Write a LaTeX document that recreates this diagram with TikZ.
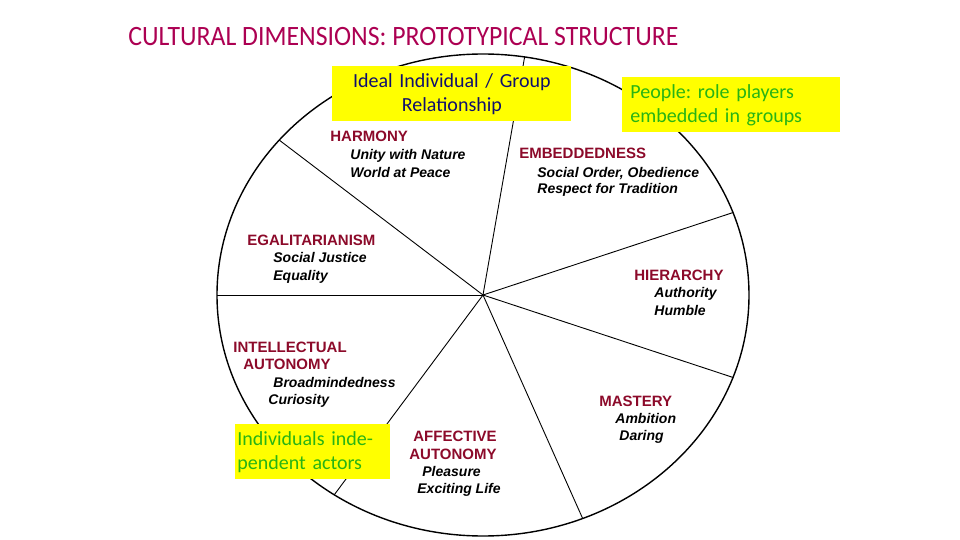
\documentclass[tikz,border=0pt]{standalone}
\usepackage{fontspec}
\setmainfont{Liberation Sans}
\newfontfamily\notefont{Carlito}
\newfontfamily\titlefont[FakeStretch=0.92]{Carlito}
\usepackage{tikz}
\usetikzlibrary{positioning,calc}
\definecolor{titlered}{RGB}{172,0,82}
\definecolor{dimred}{RGB}{140,10,42}
\definecolor{notegreen}{RGB}{40,180,20}
\definecolor{notenavy}{RGB}{15,15,110}
\definecolor{noteyellow}{RGB}{255,255,0}
\tikzset{
  rim-line/.style={draw=black, line width=0.7pt},
  spoke-line/.style={draw=black, line width=0.45pt},
  title-text/.style={anchor=base west, inner sep=0pt, font=\titlefont\fontsize{14}{16}\selectfont,
    text=titlered},
  dim-title/.style={anchor=base west, inner sep=0pt, font=\fontsize{7.5}{9}\selectfont\bfseries,
    text=dimred},
  dim-value/.style={anchor=base west, inner sep=0pt, font=\fontsize{7}{9}\selectfont\bfseries\itshape,
    text=black},
  note-box/.style={fill=noteyellow, anchor=north west, inner ysep=0pt, minimum height=27.5pt,
    font=\notefont\fontsize{10}{12}\selectfont\frenchspacing}
}

\begin{document}
\begin{tikzpicture}[x=0.5pt,y=-0.5pt]
\useasboundingbox (0,0) rectangle (960,540);
\node[title-text] (title) at (128,46) {CULTURAL DIMENSIONS: PROTOTYPICAL STRUCTURE};

% wheel
\coordinate (hub) at (483,295);
\draw[rim-line] (hub) ellipse [x radius=133pt, y radius=120.5pt];
\coordinate (rim-a) at ($(hub)+(-81:266 and 241)$);
\coordinate (rim-b) at ($(hub)+(-140:266 and 241)$);
\coordinate (rim-c) at ($(hub)+(180:266 and 241)$);
\coordinate (rim-d) at ($(hub)+(124:266 and 241)$);
\coordinate (rim-e) at ($(hub)+(68:266 and 241)$);
\coordinate (rim-f) at ($(hub)+(20:266 and 241)$);
\coordinate (rim-g) at ($(hub)+(-20:266 and 241)$);
\draw[spoke-line] (hub) -- (rim-a);
\draw[spoke-line] (hub) -- (rim-b);
\draw[spoke-line] (hub) -- (rim-c);
\draw[spoke-line] (hub) -- (rim-d);
\draw[spoke-line] (hub) -- (rim-e);
\draw[spoke-line] (hub) -- (rim-f);
\draw[spoke-line] (hub) -- (rim-g);

% value types
\node[dim-title] (harmony) at (330,142) {HARMONY};
\node[dim-value] (harmony-a) at (350,160) {Unity with Nature};
\node[dim-value] (harmony-b) at (350,177) {World at Peace};
\node[dim-title] (embedded) at (519,159) {EMBEDDEDNESS};
\node[dim-value] (embedded-a) at (537,177) {Social Order, Obedience};
\node[dim-value] (embedded-b) at (537,194) {Respect for Tradition};
\node[dim-title] (egalit) at (247,246) {EGALITARIANISM};
\node[dim-value] (egalit-a) at (273,263) {Social Justice};
\node[dim-value] (egalit-b) at (273,280) {Equality};
\node[dim-title] (hierarchy) at (634,281) {HIERARCHY};
\node[dim-value] (hierarchy-a) at (654,298) {Authority};
\node[dim-value] (hierarchy-b) at (654,315) {Humble};
\node[dim-title] (intellect) at (233,352) {INTELLECTUAL};
\node[dim-title] (intellect-b) at (243,370) {AUTONOMY};
\node[dim-value] (intellect-c) at (273,387) {Broadmindedness};
\node[dim-value] (intellect-d) at (268,404) {Curiosity};
\node[dim-title] (affect) at (413,441) {AFFECTIVE};
\node[dim-title] (affect-b) at (409,459) {AUTONOMY};
\node[dim-value] (affect-c) at (422,476) {Pleasure};
\node[dim-value] (affect-d) at (417,493) {Exciting Life};
\node[dim-title] (mastery) at (599,406) {MASTERY};
\node[dim-value] (mastery-a) at (615,423) {Ambition};
\node[dim-value] (mastery-b) at (619,440) {Daring};

% yellow notes
\node[note-box, text=notenavy, inner xsep=4pt, text width=111.5pt, align=center]
  (relation) at (332,66) {Ideal Individual / Group\\Relationship};
\node[note-box, text=notegreen, inner xsep=4pt, text width=101pt, align=left]
  (roles) at (622,77) {People: role players\\embedded in groups};
\node[note-box, text=notegreen, inner xsep=1pt, text width=75.5pt, align=left]
  (actors) at (235,424) {Individuals inde-\\pendent actors};
\end{tikzpicture}
\end{document}
